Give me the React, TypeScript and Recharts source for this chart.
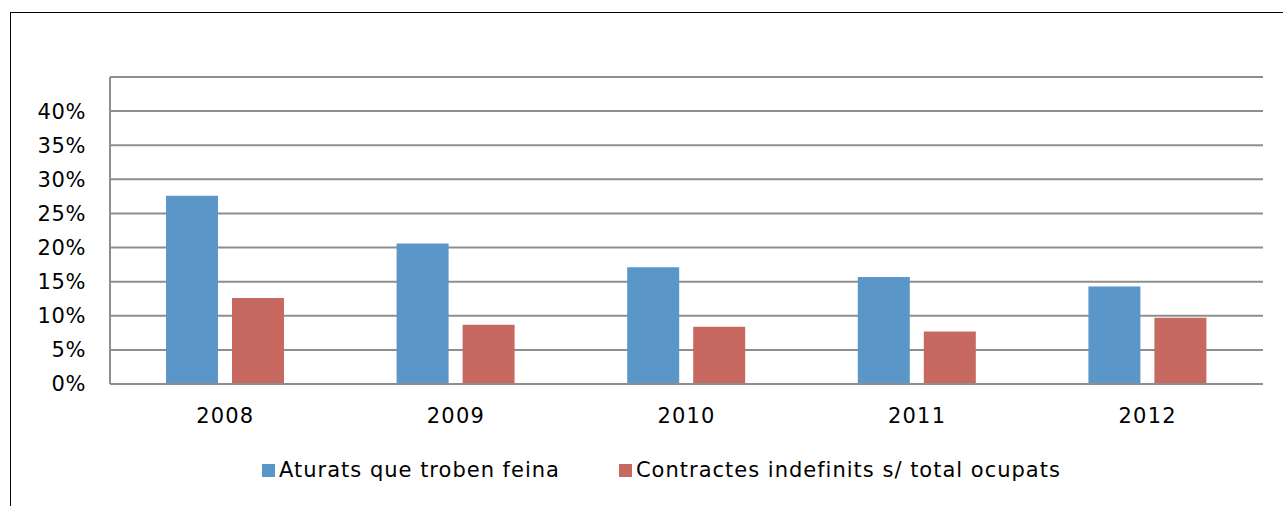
import { BarChart, Bar, XAxis, YAxis, CartesianGrid, ReferenceLine } from "recharts";

const years = ["2008", "2009", "2010", "2011", "2012"];
const aturats = [0.276, 0.206, 0.171, 0.157, 0.143];
const contractes = [0.126, 0.087, 0.084, 0.077, 0.097];
const yTicks = [0, 0.05, 0.1, 0.15, 0.2, 0.25, 0.3, 0.35, 0.4];

const SERIES = [
  { key: "aturats", label: "Aturats que troben feina", color: "#5B96C8" },
  { key: "contractes", label: "Contractes indefinits s/ total ocupats", color: "#C76861" },
];

const FONT = "'DejaVu Sans', Verdana, sans-serif";
const GRID = "#8E8E8E";

const data = years.map((year, i) => ({
  year,
  aturats: aturats[i],
  contractes: contractes[i],
}));

function pct(v: number): string {
  return `${Math.round(v * 100)}%`;
}

function ChartLegend() {
  return (
    <div
      style={{
        position: "absolute",
        left: 262,
        top: 458,
        display: "flex",
        alignItems: "center",
        fontFamily: FONT,
        fontSize: 21,
        letterSpacing: 1,
        color: "#000",
        whiteSpace: "nowrap",
      }}
    >
      {SERIES.map((s, i) => (
        <div
          key={s.key}
          style={{ display: "flex", alignItems: "center", marginRight: i === 0 ? 59 : 0 }}
        >
          <span
            style={{ width: 13, height: 13, background: s.color, display: "inline-block", marginRight: 4 }}
          />
          <span>{s.label}</span>
        </div>
      ))}
    </div>
  );
}

export default function App() {
  return (
    <div style={{ position: "fixed", left: 0, top: 0, width: 1283, height: 506, overflow: "hidden", background: "#fff" }}>
      {/* outer chart frame, only top and left edges fall inside the page */}
      <div
        style={{
          position: "absolute",
          left: 10,
          top: 12,
          width: 1400,
          height: 600,
          borderTop: "1.5px solid #000",
          borderLeft: "1.5px solid #000",
        }}
      />
      <BarChart
        width={1283}
        height={506}
        data={data}
        margin={{ top: 77, right: 20, left: 10, bottom: 82 }}
        barSize={52}
        barGap={14}
        style={{ position: "absolute", left: 0, top: 0 }}
      >
        <CartesianGrid vertical={false} stroke={GRID} strokeWidth={2} />
        <XAxis
          dataKey="year"
          height={40}
          tickLine={false}
          axisLine={{ stroke: GRID, strokeWidth: 2 }}
          tickMargin={18}
          tick={{ fontSize: 21, fill: "#000", fontFamily: FONT, letterSpacing: 1.2 }}
        />
        <YAxis
          width={100}
          domain={[0, 0.45]}
          ticks={yTicks}
          tickFormatter={pct}
          tickLine={false}
          axisLine={{ stroke: GRID, strokeWidth: 2 }}
          tickMargin={18}
          tick={{ fontSize: 21, fill: "#000", fontFamily: FONT, letterSpacing: 0.6 }}
        />
        <ReferenceLine y={0.45} stroke={GRID} strokeWidth={2} />
        {SERIES.map((s) => (
          <Bar key={s.key} dataKey={s.key} fill={s.color} isAnimationActive={false} />
        ))}
      </BarChart>
      <ChartLegend />
    </div>
  );
}
